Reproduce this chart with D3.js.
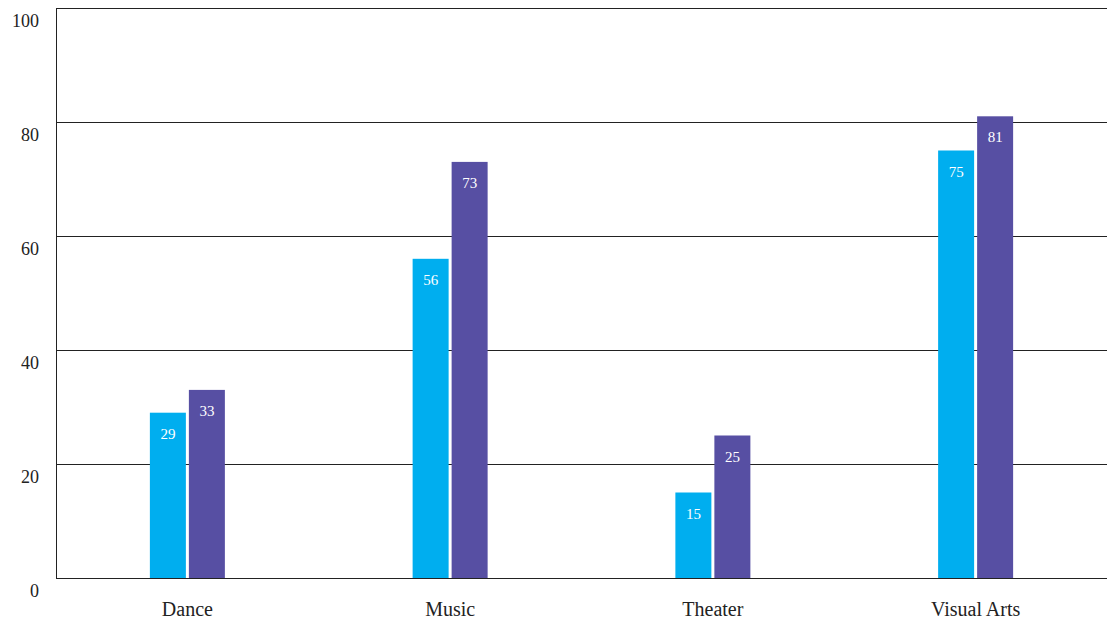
<!DOCTYPE html>
<html>
<head>
<meta charset="utf-8">
<script src="https://cdn.jsdelivr.net/npm/d3@7"></script>
<style>
  html, body { margin: 0; padding: 0; background: #fff; }
  svg { display: block; font-family: "Liberation Serif", "DejaVu Serif", serif; }
</style>
</head>
<body>
<svg id="chart" width="1113" height="623"></svg>
<script>
// Chart data
const categories = ["Dance", "Music", "Theater", "Visual Arts"];
const seriesA = [29, 56, 15, 75];
const seriesB = [33, 73, 25, 81];
const yTicks = [0, 20, 40, 60, 80, 100];
const seriesColors = ["#00aeef", "#574fa3"];

const svg = d3.select("#chart");
const margin = { top: 8, right: 6, bottom: 45, left: 56 };
const width = 1113 - margin.left - margin.right;
const height = 623 - margin.top - margin.bottom;

const g = svg.append("g").attr("transform", `translate(${margin.left},${margin.top})`);

const x = d3.scaleBand().domain(categories).range([0, width]);
const y = d3.scaleLinear().domain([0, 100]).range([height, 0]);

// Horizontal gridlines
g.append("g")
  .selectAll("line")
  .data(yTicks)
  .join("line")
  .attr("x1", 0).attr("x2", width)
  .attr("y1", d => y(d)).attr("y2", d => y(d))
  .attr("stroke", "#222").attr("stroke-width", 1)
  .attr("shape-rendering", "crispEdges");

// Left axis line
g.append("line")
  .attr("x1", 0).attr("x2", 0)
  .attr("y1", y(100)).attr("y2", y(0))
  .attr("stroke", "#222").attr("stroke-width", 1)
  .attr("shape-rendering", "crispEdges");

// Y tick labels sit just below their gridlines
g.append("g")
  .selectAll("text")
  .data(yTicks)
  .join("text")
  .attr("x", -17)
  .attr("y", d => y(d) + 19)
  .attr("text-anchor", "end")
  .attr("font-size", 18)
  .attr("fill", "#222")
  .text(d => d);

// Bars
const barW = 36, gap = 3;
const groups = g.append("g")
  .selectAll("g")
  .data(categories.map((c, i) => ({ c, vals: [seriesA[i], seriesB[i]] })))
  .join("g")
  .attr("transform", d => `translate(${x(d.c) + x.bandwidth() / 2},0)`);

groups.selectAll("rect")
  .data(d => d.vals)
  .join("rect")
  .attr("x", (d, j) => j === 0 ? -barW - gap / 2 : gap / 2)
  .attr("width", barW)
  .attr("y", d => y(d))
  .attr("height", d => y(0) - y(d))
  .attr("fill", (d, j) => seriesColors[j]);

groups.selectAll("text")
  .data(d => d.vals)
  .join("text")
  .attr("x", (d, j) => (j === 0 ? -barW - gap / 2 : gap / 2) + barW / 2)
  .attr("y", d => y(d) + 26)
  .attr("text-anchor", "middle")
  .attr("font-size", 15)
  .attr("fill", "#fff")
  .text(d => d);

// Category labels
g.append("g")
  .selectAll("text")
  .data(categories)
  .join("text")
  .attr("x", d => x(d) + x.bandwidth() / 2)
  .attr("y", height + 38)
  .attr("text-anchor", "middle")
  .attr("font-size", 20)
  .attr("fill", "#222")
  .text(d => d);
</script>
</body>
</html>
